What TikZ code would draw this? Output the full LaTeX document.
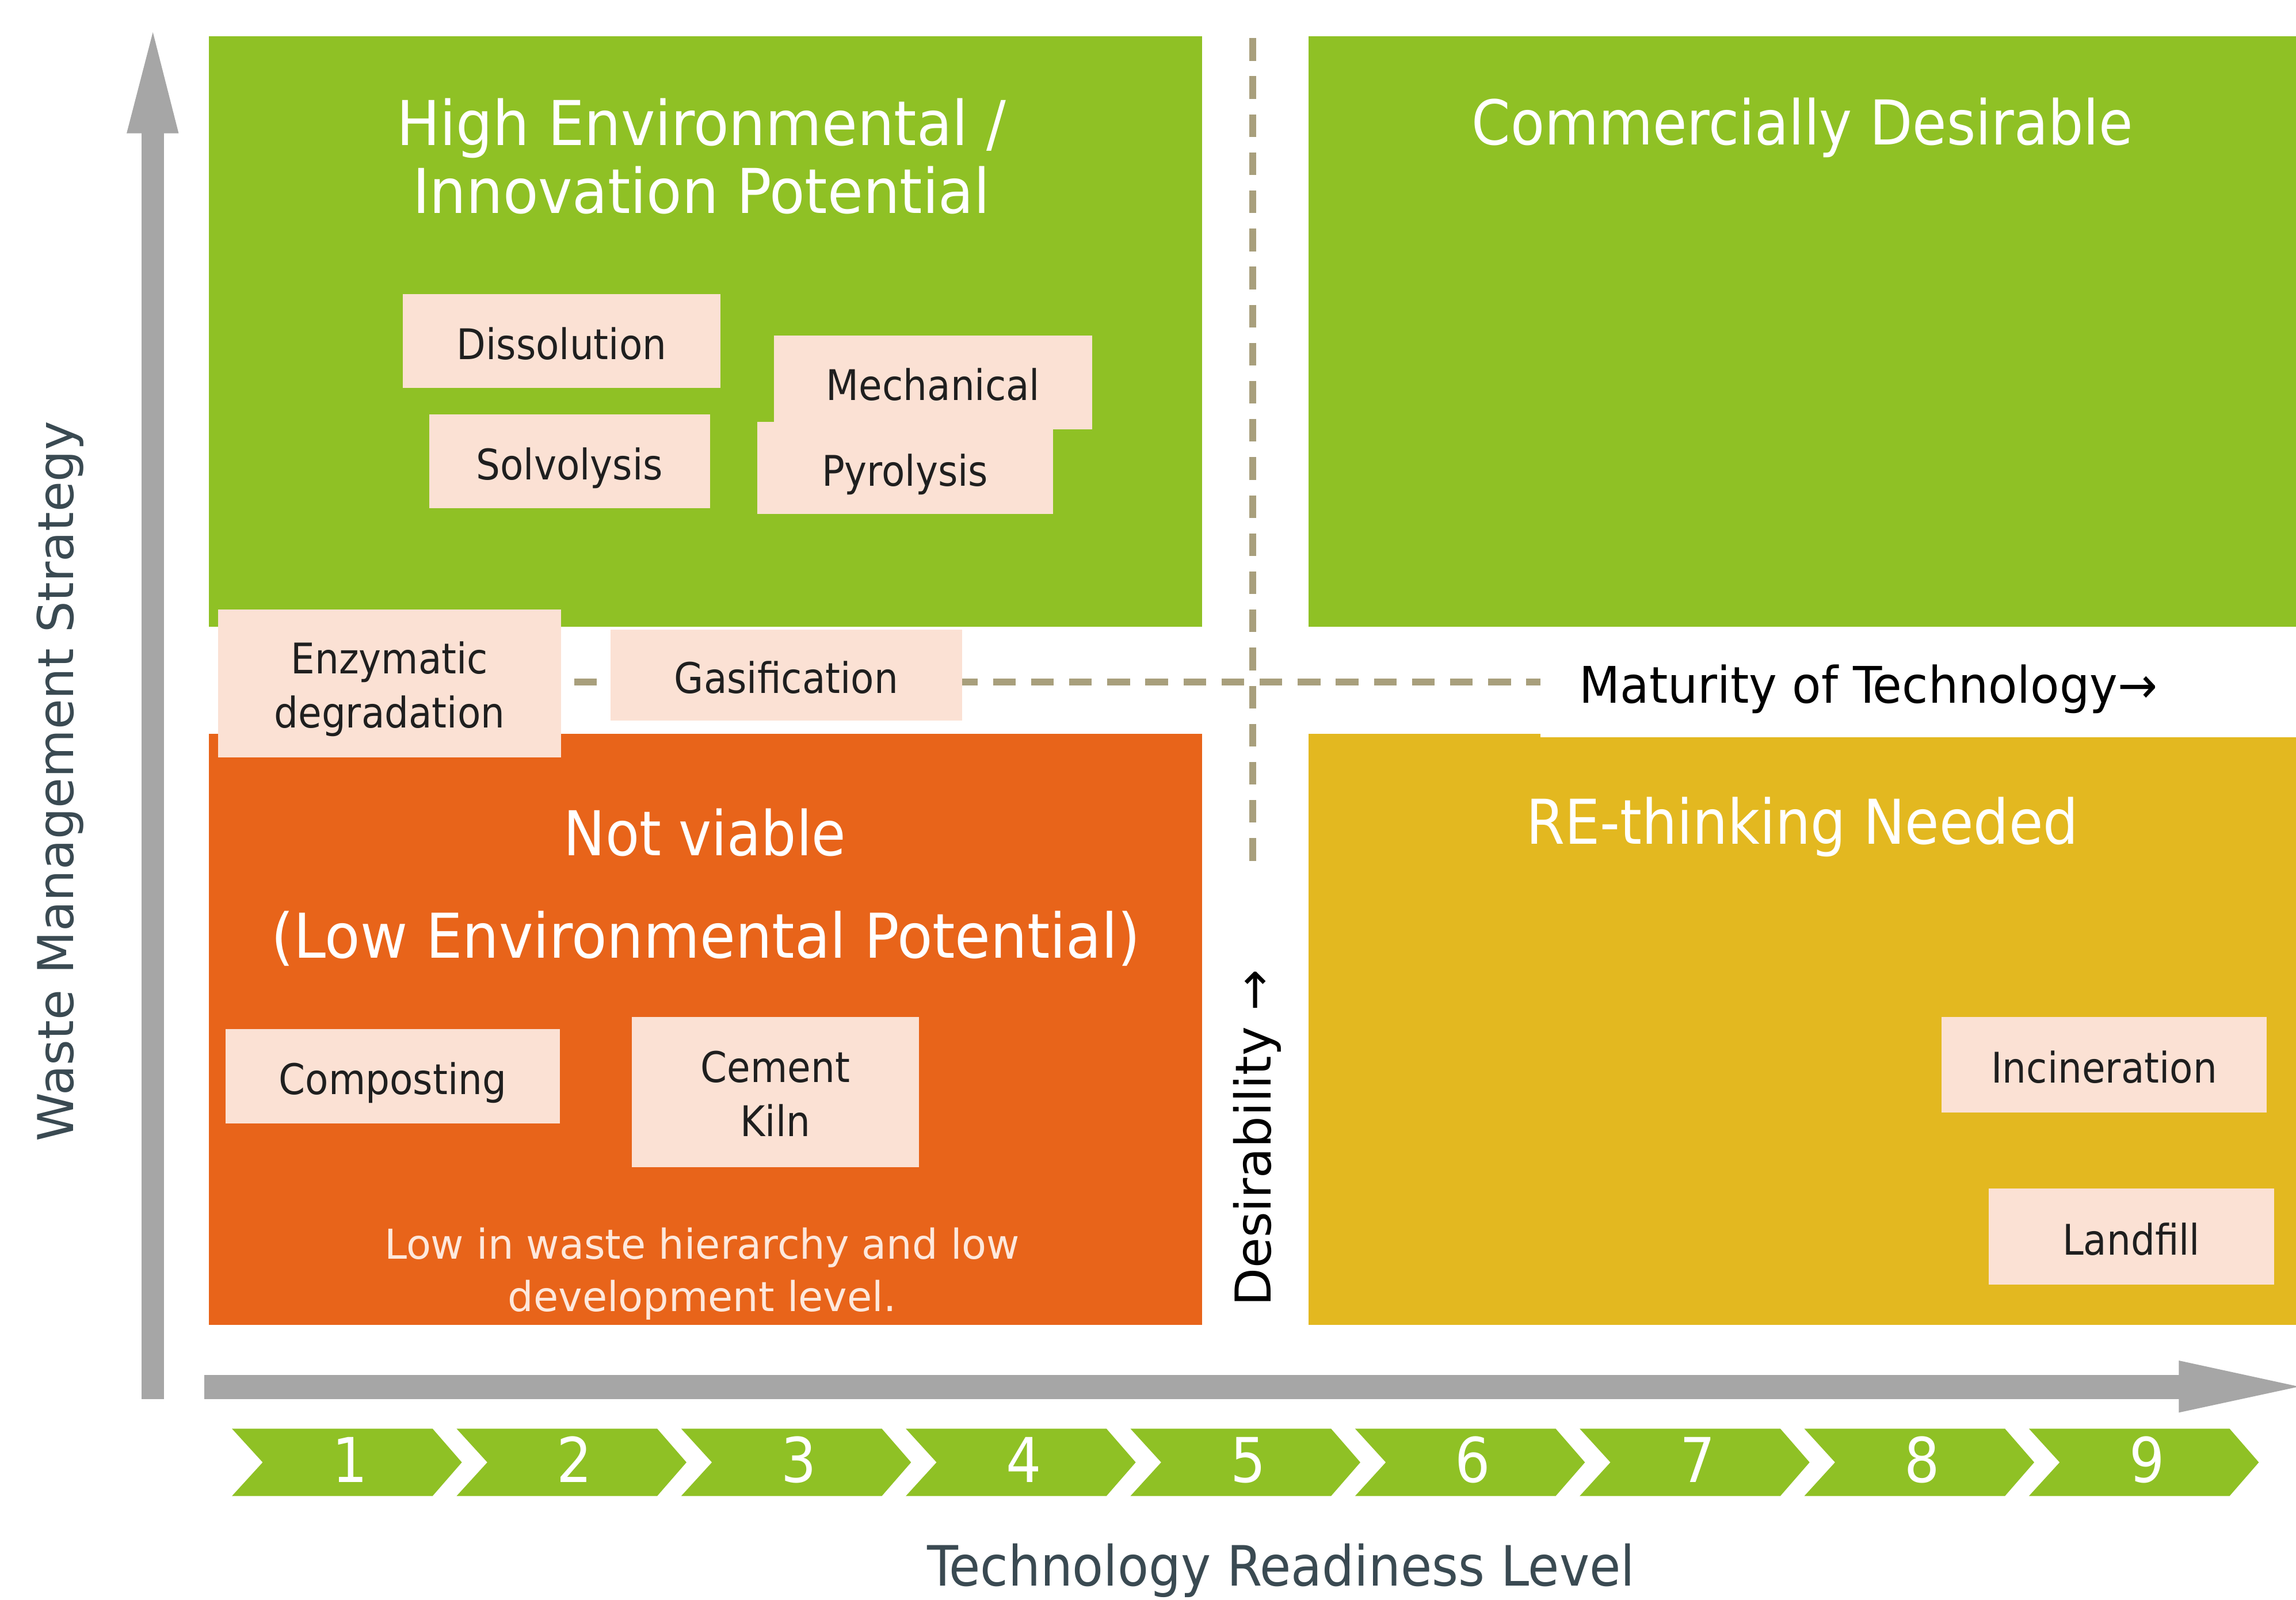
\documentclass[tikz,border=0pt]{standalone}
\usepackage{fontspec}
\usepackage{graphicx}
\setmainfont{DejaVu Sans Condensed}
\newfontfamily\verafont{DejaVu Sans}
\usetikzlibrary{calc}
\definecolor{qgreen}{HTML}{8FC125}
\definecolor{qorange}{HTML}{E8641A}
\definecolor{qyellow}{HTML}{E3B820}
\definecolor{qpeach}{HTML}{FBE1D4}
\definecolor{qgrey}{HTML}{A6A6A6}
\definecolor{qdash}{HTML}{A89F7C}
\definecolor{qslate}{HTML}{3A4A52}
\definecolor{qpale}{HTML}{FDE8DC}
\tikzset{
  peachtext/.style={font=\fontsize{20.5}{26.3}\selectfont, text=black!88, inner sep=0pt, anchor=base},
  quadtitle/.style={font=\fontsize{30}{33.1}\selectfont, text=white, inner sep=0pt, anchor=base},
  dashline/.style={draw=qdash, line width=3.1pt, dash pattern=on 11pt off 7.5pt},
  axisfill/.style={fill=qgrey},
  chevron/.style={fill=qgreen},
  trlnum/.style={font=\fontsize{30}{34}\selectfont, text=white, inner sep=0pt, anchor=base},
}
\newcommand\peach[6]{%
  \fill[qpeach] (#2,#3) rectangle (#4,#5);
  \node[peachtext] (#1) at ({(#2+#4)/2},{(#3+#5)/2+12.5}) {#6};}
\newcommand\peachtwo[8]{%
  \fill[qpeach] (#2,#3) rectangle (#4,#5);
  \node[peachtext] (#1) at ({(#2+#4)/2},#6) {\begin{tabular}[b]{@{}c@{}}#7\\#8\end{tabular}};}
\begin{document}
\begin{tikzpicture}[x=0.025cm,y=-0.025cm]
\useasboundingbox[fill=white] (0,0) rectangle (1568,1092.5);

% quadrants
\fill[qgreen]  (142.5,24.8) rectangle (821,428);
\fill[qgreen]  (893.5,24.8) rectangle (1568,428);
\fill[qorange] (142.5,501) rectangle (821,904.5);
\fill[qyellow] (893.5,501) rectangle (1568,904.5);

% dashed cross
\coordinate (vtop) at (855.5,26);
\coordinate (vbot) at (855.5,591);
\coordinate (hleft) at (392,465.7);
\coordinate (hright) at (1052,465.7);
\draw[dashline] (vtop) -- (vbot);
\draw[dashline] (hleft) -- (hright);

% maturity label on white strip
\fill[white] (1052,431) rectangle (1568,503.5);
\node[font=\fontsize{24.5}{28}\selectfont, text=black, inner sep=0pt, anchor=base] (maturity) at (1276,480) {\scalebox{1.045}[1]{Maturity of Technology→}};

% quadrant titles
\node[quadtitle] (hiEnv) at (479,145.6) {\scalebox{1.04}[1]{\begin{tabular}[b]{@{}c@{}}High Environmental /\\Innovation Potential\end{tabular}}};
\node[quadtitle] (commDes) at (1231,98.7) {Commercially Desirable};
\node[quadtitle] (notViable) at (481.5,584) {Not viable};
\node[quadtitle] (lowEnv) at (482,654) {\scalebox{1.04}[1]{(Low Environmental Potential)}};
\node[quadtitle] (rethink) at (1231,576.5) {RE-thinking Needed};
\node[font=\fontsize{20}{25.4}\selectfont, text=qpale, inner sep=0pt, anchor=base] (lowWaste) at (479.5,895.3)
  {\scalebox{1.09}[1]{\begin{tabular}[b]{@{}c@{}}Low in waste hierarchy and low\\development level.\end{tabular}}};

% technology boxes
\peach{dissolution}{275}{201}{492}{265}{Dissolution}
\peach{mechanical}{528.5}{229}{746}{293}{Mechanical}
\peach{solvolysis}{293}{283}{485}{347}{Solvolysis}
\peach{pyrolysis}{517}{288}{719}{351}{Pyrolysis}
\peachtwo{enzymatic}{149}{416}{383}{517}{497}{Enzymatic}{degradation}
\peach{gasification}{417}{430}{657}{492}{Gasification}
\peach{composting}{154}{702.5}{382.5}{767}{Composting}
\peachtwo{cement}{431.5}{694.5}{627.5}{797}{776}{Cement}{Kiln}
\peach{incineration}{1326}{694.5}{1548}{759.5}{Incineration}
\peach{landfill}{1358}{811.5}{1553}{877}{Landfill}

% axes
\fill[axisfill] (96.8,955.5) rectangle (112,90);
\fill[axisfill] (86.5,91) -- (122,91) -- (104.4,22) -- cycle;
\fill[axisfill] (139.5,939) rectangle (1490,955.3);
\fill[axisfill] (1488,929) -- (1488,964.5) -- (1570,946.8) -- cycle;

% axis labels
\node[font=\verafont\fontsize{24}{28}\selectfont, text=qslate, rotate=90, inner sep=0pt, anchor=base] (wms) at (50,533.5) {Waste Management Strategy};
\node[font=\verafont\fontsize{24}{28}\selectfont, text=black, rotate=90, inner sep=0pt, anchor=base] (desir) at (868,777) {Desirability →};
\node[font=\fontsize{27}{31}\selectfont, text=qslate, inner sep=0pt, anchor=base] (trlLabel) at (875,1083) {\scalebox{1.015}[1]{Technology Readiness Level}};

% TRL chevrons
\foreach \i in {1,...,9} {
  \pgfmathsetmacro\L{158.4+153.4*(\i-1)}
  \fill[chevron] (\L,975.5) -- ++(137,0) -- ++(20,23) -- ++(-20,23) -- ++(-137,0) -- ++(21,-23) -- cycle;
  \node[trlnum] (trl\i) at (\L+80.5,1012) {\i};
}
\end{tikzpicture}
\end{document}
